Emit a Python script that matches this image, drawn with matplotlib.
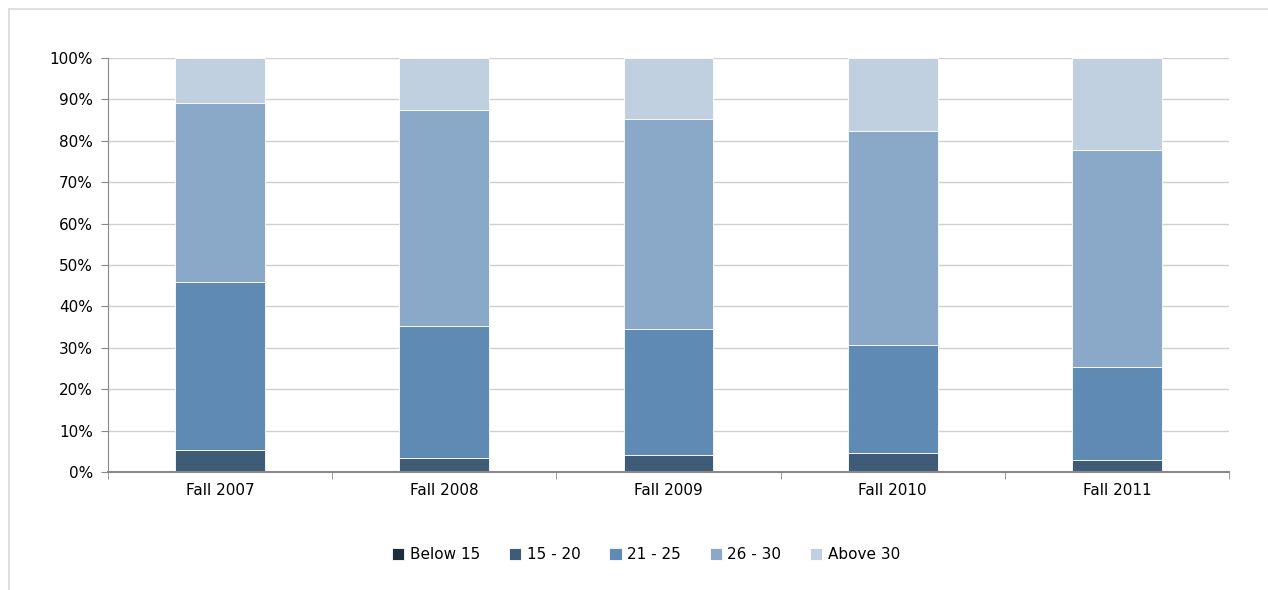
import numpy as np
import matplotlib
matplotlib.use('Agg')
import matplotlib.pyplot as plt
from matplotlib.lines import Line2D

terms = ['Fall 2007', 'Fall 2008', 'Fall 2009', 'Fall 2010', 'Fall 2011']
below_15 = [0.0, 0.0, 0.0, 0.0, 0.0]
age_15_20 = [5.3, 3.4, 4.1, 4.6, 2.9]
age_21_25 = [40.6, 31.9, 30.4, 26.1, 22.5]
age_26_30 = [43.2, 52.1, 50.8, 51.7, 52.4]
above_30 = [10.9, 12.6, 14.7, 17.6, 22.2]

series = [
    ('Below 15', below_15, '#1f2d3d'),
    ('15 - 20', age_15_20, '#3e5b77'),
    ('21 - 25', age_21_25, '#5f8ab4'),
    ('26 - 30', age_26_30, '#8aa9c8'),
    ('Above 30', above_30, '#c0d0e1'),
]

plt.rcParams['font.family'] = ['DejaVu Sans']

fig = plt.figure(figsize=(12.68, 5.90), dpi=100)
ax = fig.add_axes([0.0852, 0.2, 0.884, 0.7017])

# light outer frame: only top and left edges are in view
fx, fy = 8.5 / 1268, 1 - 8.5 / 590
fig.lines.append(Line2D([fx, 1.0], [fy, fy], transform=fig.transFigure,
                        color='#d9d9d9', linewidth=1.2))
fig.lines.append(Line2D([fx, fx], [0.0, fy], transform=fig.transFigure,
                        color='#d9d9d9', linewidth=1.2))

x = np.arange(len(terms))
bottom = np.zeros(len(terms))
for name, vals, col in series:
    vals = np.array(vals)
    ax.bar(x, vals, 0.4, bottom=bottom, color=col, label=name,
           edgecolor='white', linewidth=0.6)
    bottom += vals

ax.set_xlim(-0.5, 4.5)
ax.set_ylim(0, 100)
ax.set_yticks(np.arange(0, 101, 10))
ax.set_yticklabels([f'{v}%' for v in range(0, 101, 10)], fontsize=11)
ax.set_xticks(x)
ax.set_xticklabels(terms, fontsize=11)
ax.set_xticks(np.arange(-0.5, 5, 1), minor=True)
ax.tick_params(axis='x', which='major', length=0, pad=8)
ax.tick_params(axis='x', which='minor', length=5, color='#888888')
ax.tick_params(axis='y', length=5, color='#888888', pad=6)

ax.yaxis.grid(True, color='#d0d0d0', linewidth=1)
ax.set_axisbelow(True)
for s in ['top', 'right']:
    ax.spines[s].set_visible(False)
ax.spines['left'].set_color('#888888')
ax.spines['bottom'].set_color('#888888')
ax.spines['bottom'].set_linewidth(1.5)

ax.legend(loc='center', bbox_to_anchor=(0.48, -0.2), ncol=5, frameon=False,
          fontsize=11, handlelength=0.8, handleheight=0.8, columnspacing=1.9,
          handletextpad=0.35)

plt.savefig('out.png', dpi=100)
